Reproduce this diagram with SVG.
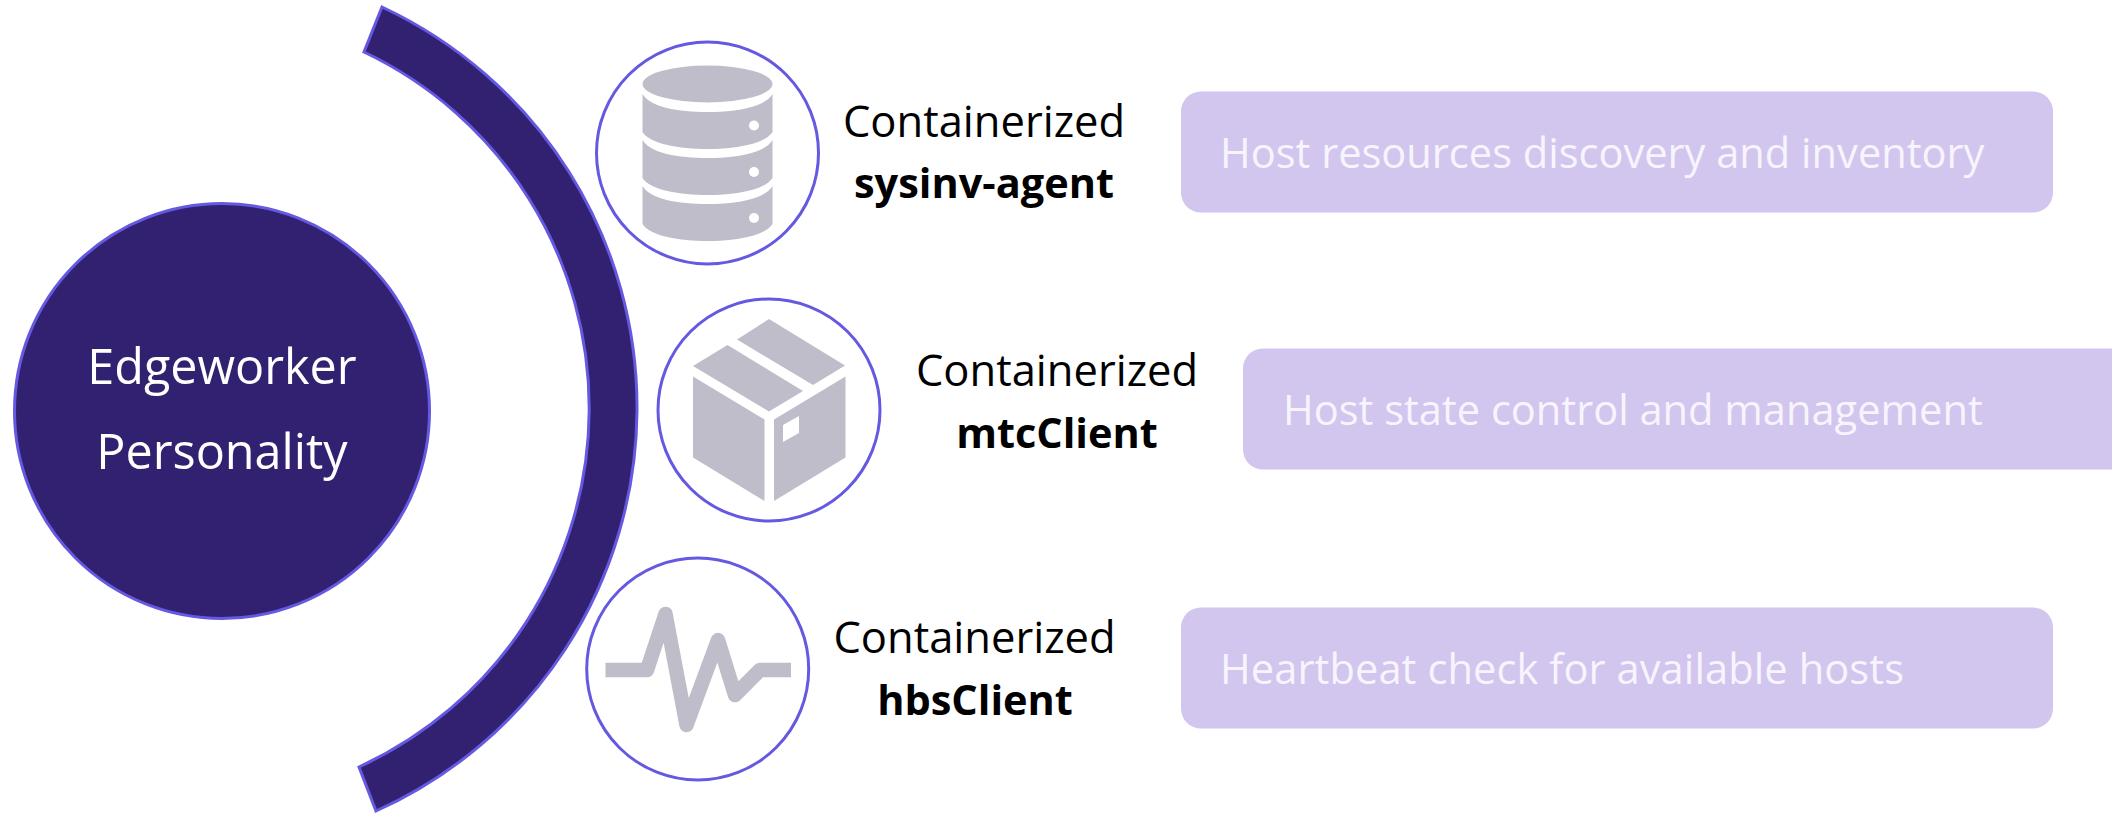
<svg xmlns="http://www.w3.org/2000/svg" width="2112" height="813" viewBox="0 0 2112 813">
<style>
text{font-family:"Open Sans","Noto Sans",sans-serif}
.ring{fill:#fff;stroke:#6459e0;stroke-width:3}
.dark{fill:#322070;stroke:#6459e0;stroke-width:3}
.ic{fill:#bfbdca}
.bar{fill:#d2c6ee}
.bt{font-size:41.600px;fill:#f7f4fd}
.lb{font-size:43.500px;fill:#000;text-anchor:middle}
.lbb{font-size:41.500px;fill:#000;text-anchor:middle;font-weight:700}
.ct{font-size:48.500px;fill:#fff;text-anchor:middle}
</style>
<rect width="2112" height="813" fill="#fff"/>
<g id="personality">
<circle class="dark" cx="222" cy="411" r="207.500"/>
<text class="ct" x="222" y="384">Edgeworker</text>
<text class="ct" x="222" y="469">Personality</text>
</g>
<g id="arc"><path class="dark" d="M382 7A442.200 442.200 0 0 1 376 811L359 767A394.500 394.500 0 0 0 364 52Z"/></g>
<g id="connectors"></g>
<g id="sysinv">
<circle class="ring" cx="707.500" cy="153" r="111"/>
<g class="ic">
<ellipse cx="707.500" cy="84" rx="65" ry="18.500"/>
<path d="M642.500 94C650 107 678 112 707.500 112S765 107 772.500 94V132C765 144 735 149 707.500 149S650 144 642.500 132Z"/>
<path d="M642.500 140C650 153 678 158 707.500 158S765 153 772.500 140V178C765 190 735 195 707.500 195S650 190 642.500 178Z"/>
<path d="M642.500 186C650 199 678 204 707.500 204S765 199 772.500 186V224C765 236 735 241 707.500 241S650 236 642.500 224Z"/>
</g>
<g fill="#fff"><circle cx="754" cy="125.500" r="5"/><circle cx="754" cy="172" r="5"/><circle cx="754" cy="218" r="5"/></g>
<text class="lb" x="984" y="137">Containerized</text>
<text class="lbb" x="984" y="198">sysinv-agent</text>
</g>
<g id="mtc">
<circle class="ring" cx="769" cy="410" r="111"/>
<g class="ic">
<path d="M769 319L845 365.500L813 385L737 339.500Z"/>
<path d="M727.500 345L803 391L769 411.500L693 366Z"/>
<path d="M693 376.500L764.500 419.500V501L693 457.500Z"/>
<path fill-rule="evenodd" d="M774 419.500L845.500 376.500V457.500L774 501ZM783 425V442L799 433V416Z"/>
</g>
<text class="lb" x="1057" y="386">Containerized</text>
<text class="lbb" x="1057" y="448">mtcClient</text>
</g>
<g id="hbs">
<circle class="ring" cx="697.700" cy="669" r="111"/>
<path fill="none" stroke="#bfbdca" stroke-width="14.500" stroke-linejoin="round" d="M605.500 670H647L665.500 614L686.500 725L718 640L735 695L760 670H791"/>
<text class="lb" x="974.500" y="653">Containerized</text>
<text class="lbb" x="975" y="715">hbsClient</text>
</g>
<g id="desc1"><rect class="bar" x="1181" y="91.500" width="872" height="121" rx="20"/><text class="bt" x="1220" y="168">Host resources discovery and inventory</text></g>
<g id="desc2"><rect class="bar" x="1243" y="348.500" width="900" height="121" rx="20"/><text class="bt" x="1283" y="425">Host state control and management</text></g>
<g id="desc3"><rect class="bar" x="1181" y="607.500" width="872" height="121" rx="20"/><text class="bt" x="1220" y="684" textLength="684">Heartbeat check for available hosts</text></g>
</svg>
